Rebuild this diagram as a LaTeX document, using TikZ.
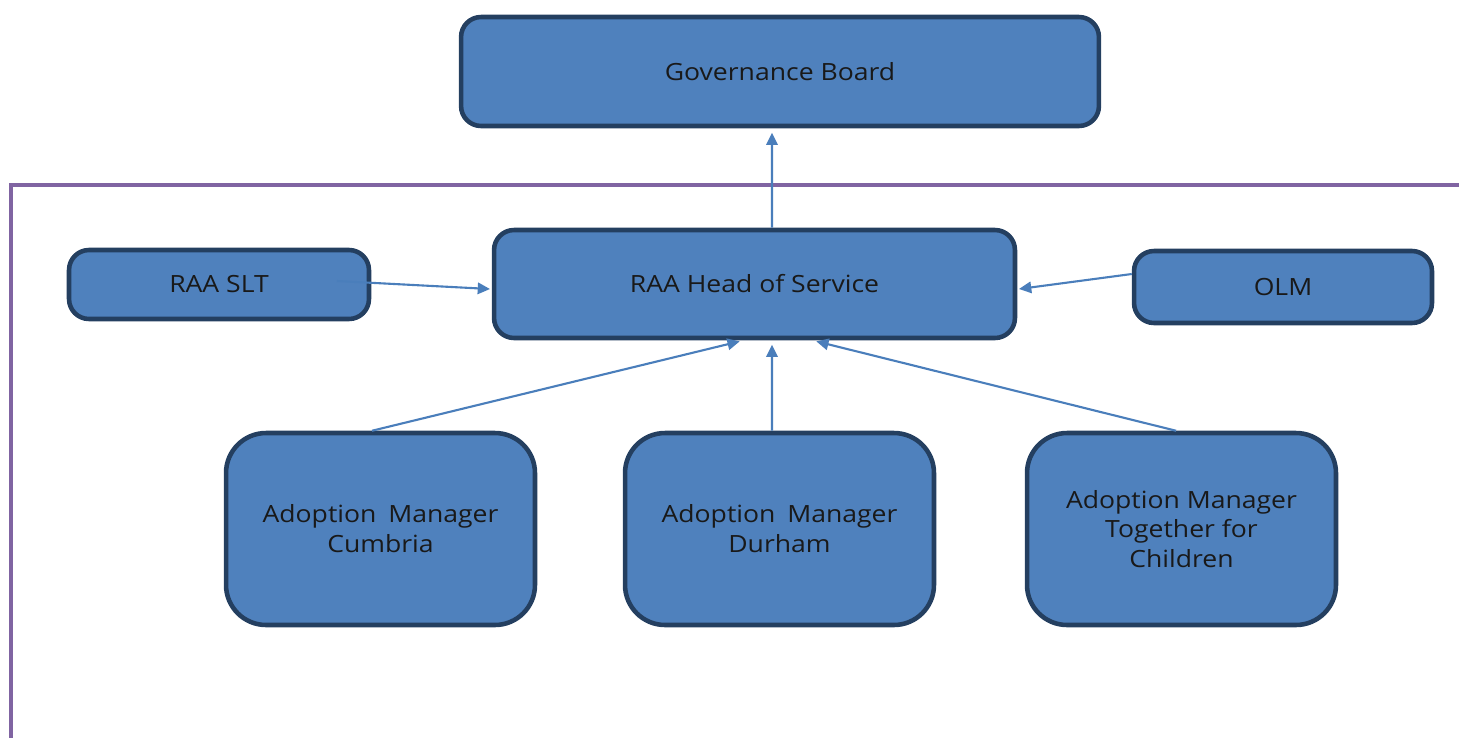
\documentclass[tikz,border=0pt]{standalone}
\usepackage{fontspec}
\setmainfont{Open Sans}[FakeStretch=1.12]
\usetikzlibrary{arrows.meta, positioning, calc}
\definecolor{BOX_FILL}{HTML}{4F81BD}
\definecolor{BOX_EDGE}{HTML}{243F60}
\definecolor{LINK_BLUE}{HTML}{4A7EBB}
\definecolor{FRAME_PURPLE}{HTML}{8064A2}

\begin{document}
\begin{tikzpicture}[x=0.02cm, y=-0.02cm,
    unit/.style={draw=BOX_EDGE, fill=BOX_FILL, line width=2.6pt, rounded corners=0.4cm,
      inner sep=0pt, align=center, text=black!90, font=\fontsize{13.5}{17}\selectfont},
    manager/.style={unit, minimum width=6.18cm, minimum height=3.84cm, rounded corners=0.8cm},
    link/.style={-{Triangle[length=7pt, width=6.5pt]}, LINK_BLUE, line width=1.2pt, shorten >=2.5pt}]
      \useasboundingbox (0,0) rectangle (1459,738);

      % Region frame
      \draw[FRAME_PURPLE, line width=2pt] (1459,185) -- (11,185) -- (11,738);

      % Boxes
      \node[unit, minimum width=12.76cm, minimum height=2.18cm] (gov) at (780,71.5) {Governance Board};
      \node[unit, minimum width=10.42cm, minimum height=2.16cm] (head) at (754.5,284) {RAA Head of Service};
      \node[unit, minimum width=6.0cm, minimum height=1.38cm] (slt) at (219,284.5) {RAA SLT};
      \node[unit, minimum width=5.96cm, minimum height=1.44cm] (olm) at (1283,287) {OLM};
      \node[manager] (cumbria) at (380.5,529) {Adoption\enspace Manager\\Cumbria};
      \node[manager] (durham) at (779.5,529) {Adoption\enspace Manager\\Durham};
      \node[manager] (tfc) at (1181.5,529) {Adoption Manager\\Together for\\Children};

      % Reporting lines
      \coordinate (slt out) at ([xshift=2.36cm, yshift=0.07cm]slt.center);
      \draw[link] ([xshift=0.35cm]head.north) -- ([xshift=-0.16cm]gov.south);
      \draw[link, shorten >=0pt] (slt out) -- ([yshift=-0.1cm, xshift=-1pt]head.west);
      \draw[link, shorten >=0pt] ([yshift=0.26cm]olm.west) -- ([yshift=-0.1cm, xshift=1pt]head.east);
      \draw[link] ([xshift=-0.17cm]cumbria.north) -- ([xshift=-0.21cm]head.south);
      \draw[link] ([xshift=-0.15cm]durham.north) -- ([xshift=0.35cm]head.south);
      \draw[link] ([xshift=-0.11cm]tfc.north) -- ([xshift=1.15cm]head.south);
    \end{tikzpicture}
\end{document}
